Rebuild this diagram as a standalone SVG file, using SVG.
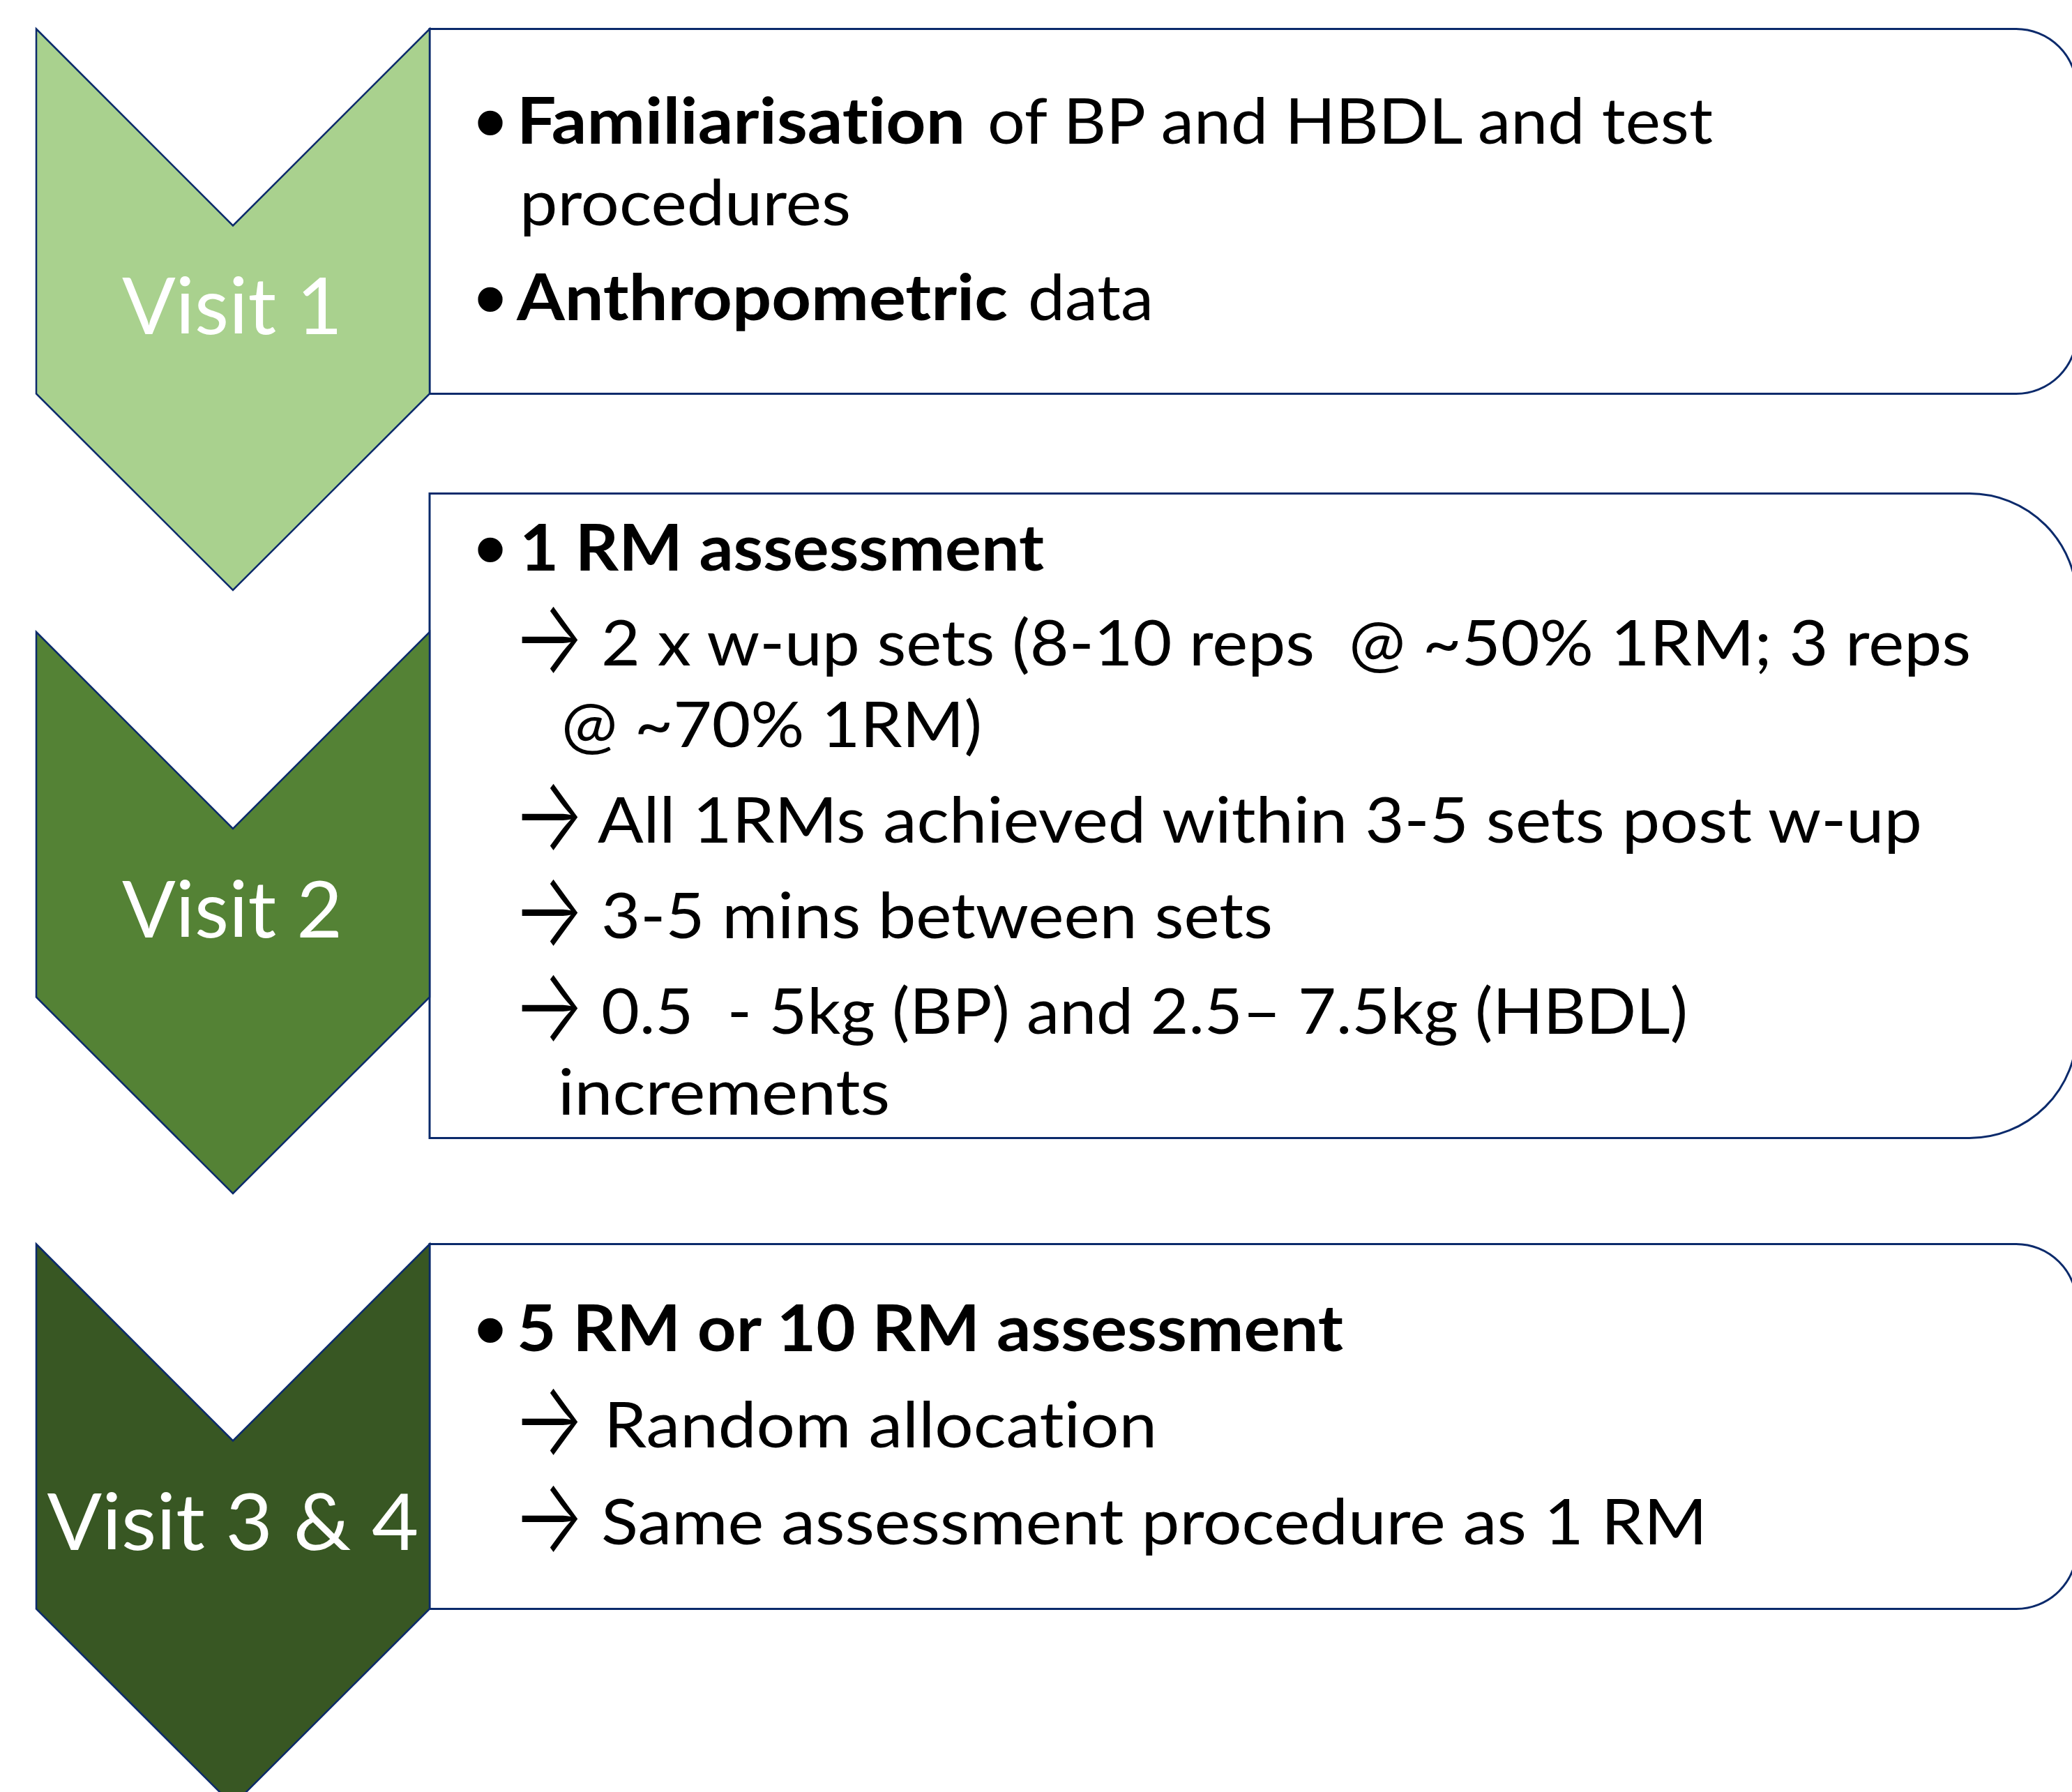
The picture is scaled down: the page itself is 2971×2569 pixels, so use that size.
<svg xmlns="http://www.w3.org/2000/svg" width="2971" height="2569" viewBox="0 0 2971 2569">
  <style>
    .chev { stroke: #0B2A6B; stroke-width: 2.5; stroke-linejoin: miter; }
    .box { fill: #FFFFFF; stroke: #0B2A6B; stroke-width: 3; }
    .label { font-family: Lato, "Open Sans", sans-serif; font-size: 113px; fill: #FFFFFF; text-anchor: middle; font-variant-ligatures: none; font-feature-settings: "liga" 0; }
    .t { font-family: Lato, "Open Sans", sans-serif; font-size: 92px; fill: #000000; font-variant-ligatures: none; font-feature-settings: "liga" 0; }
    .b { font-weight: bold; }
    .arr { font-family: Inter, "Noto Sans CJK JP", sans-serif; font-size: 150px; font-weight: 300; fill: #000000; }
    .dot { font-family: "Liberation Sans", Arial, sans-serif; font-size: 130px; fill: #000000; text-anchor: middle; }
  </style>
  <rect width="2971" height="2569" fill="#FFFFFF"/>

  <!-- content panels (drawn first, chevrons overlap their left edges) -->
  <g id="panel-1">
    <path class="box" d="M616 41.5 H2891 A87 87 0 0 1 2978 128.5 V477.5 A87 87 0 0 1 2891 564.5 H616 Z"/>
    <text class="dot" x="703" y="219">•</text>
    <text class="t b" x="741" y="206" textLength="643" lengthAdjust="spacingAndGlyphs">Familiarisation</text>
    <text class="t" x="1416" y="206" textLength="1040" lengthAdjust="spacingAndGlyphs">of BP and HBDL and test</text>
    <text class="t" x="745" y="323" textLength="475" lengthAdjust="spacingAndGlyphs">procedures</text>
    <text class="dot" x="703" y="472">•</text>
    <text class="t b" x="741" y="459" textLength="704" lengthAdjust="spacingAndGlyphs">Anthropometric</text>
    <text class="t" x="1474" y="459" textLength="180" lengthAdjust="spacingAndGlyphs">data</text>
  </g>

  <g id="panel-2">
    <path class="box" d="M616 707.5 H2824 A154 154 0 0 1 2978 861.5 V1477.5 A154 154 0 0 1 2824 1631.5 H616 Z"/>
    <text class="dot" x="703" y="831">•</text>
    <text class="t b" x="745" y="818" textLength="752" lengthAdjust="spacingAndGlyphs">1 RM assessment</text>
    <text class="arr" x="735" y="965" textLength="104" lengthAdjust="spacingAndGlyphs">→</text>
    <text class="t" x="862" y="954" xml:space="preserve" textLength="1964" lengthAdjust="spacingAndGlyphs">2 x w-up sets (8-10 reps  @ ~50% 1RM; 3 reps</text>
    <text class="t" x="805" y="1071" textLength="603" lengthAdjust="spacingAndGlyphs">@ ~70% 1RM)</text>
    <text class="arr" x="735" y="1219" textLength="104" lengthAdjust="spacingAndGlyphs">→</text>
    <text class="t" x="857" y="1208" textLength="1899" lengthAdjust="spacingAndGlyphs">All 1RMs achieved within 3-5 sets post w-up</text>
    <text class="arr" x="735" y="1356" textLength="104" lengthAdjust="spacingAndGlyphs">→</text>
    <text class="t" x="862" y="1345" textLength="963" lengthAdjust="spacingAndGlyphs">3-5 mins between sets</text>
    <text class="arr" x="735" y="1493" textLength="104" lengthAdjust="spacingAndGlyphs">→</text>
    <text class="t" x="862" y="1482" xml:space="preserve" textLength="1558" lengthAdjust="spacingAndGlyphs">0.5  - 5kg (BP) and 2.5– 7.5kg (HBDL)</text>
    <text class="t" x="800" y="1598" textLength="476" lengthAdjust="spacingAndGlyphs">increments</text>
  </g>

  <g id="panel-3">
    <path class="box" d="M616 1783.5 H2891 A87 87 0 0 1 2978 1870.5 V2219.5 A87 87 0 0 1 2891 2306.5 H616 Z"/>
    <text class="dot" x="703" y="1950">•</text>
    <text class="t b" x="741" y="1937" textLength="1185" lengthAdjust="spacingAndGlyphs">5 RM or 10 RM assessment</text>
    <text class="arr" x="735" y="2086" textLength="104" lengthAdjust="spacingAndGlyphs">→</text>
    <text class="t" x="866" y="2075" textLength="793" lengthAdjust="spacingAndGlyphs">Random allocation</text>
    <text class="arr" x="735" y="2225" textLength="104" lengthAdjust="spacingAndGlyphs">→</text>
    <text class="t" x="862" y="2214" textLength="1586" lengthAdjust="spacingAndGlyphs">Same assessment procedure as 1 RM</text>
  </g>

  <!-- chevron step markers -->
  <g id="visit-1">
    <polygon class="chev" fill="#A9D18E" points="52,41.5 334,323.5 616,41.5 616,564.5 334,846 52,564.5"/>
    <text class="label" x="333" y="479" textLength="316" lengthAdjust="spacingAndGlyphs">Visit 1</text>
  </g>
  <g id="visit-2">
    <polygon class="chev" fill="#548235" points="52,906 334,1188 616,906 616,1429.5 334,1711 52,1429.5"/>
    <text class="label" x="333" y="1344" textLength="316" lengthAdjust="spacingAndGlyphs">Visit 2</text>
  </g>
  <g id="visit-3-4">
    <polygon class="chev" fill="#385723" points="52,1783.5 334,2065.5 616,1783.5 616,2306.5 334,2588 52,2306.5"/>
    <text class="label" x="334" y="2222" textLength="533" lengthAdjust="spacingAndGlyphs">Visit 3 &amp; 4</text>
  </g>

  <g id="connectors"/>
</svg>
